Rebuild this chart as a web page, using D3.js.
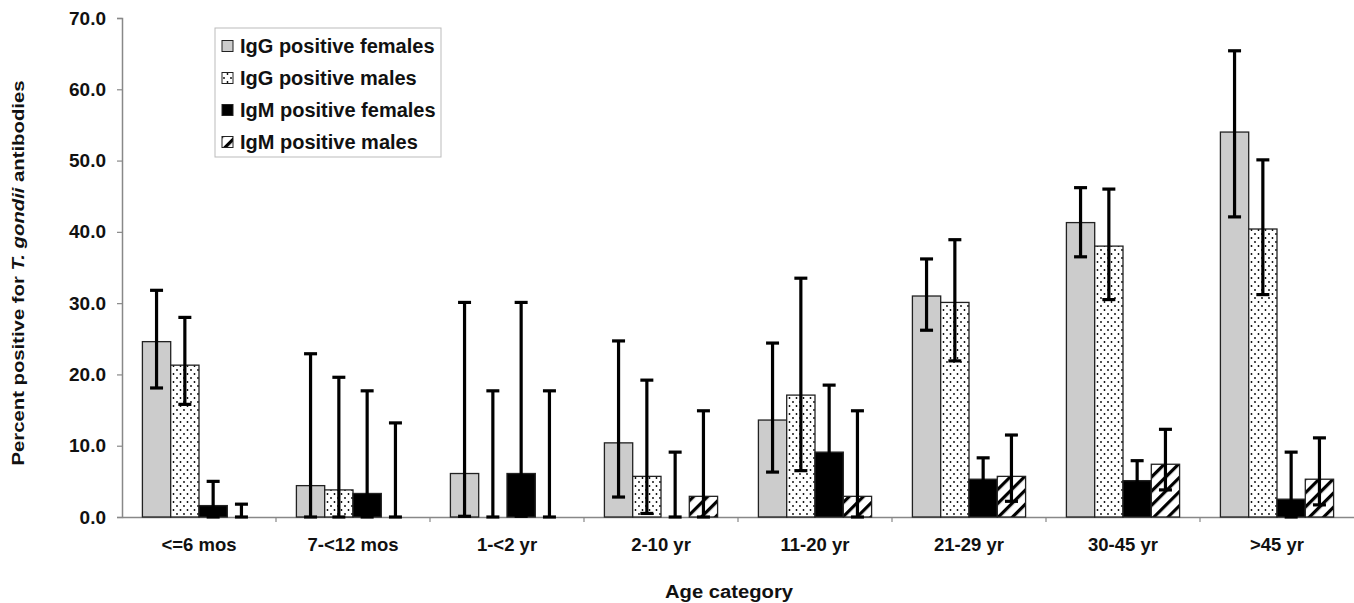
<!DOCTYPE html>
<html><head><meta charset="utf-8">
<script src="https://cdn.jsdelivr.net/npm/d3@7"></script>
<style>body{margin:0;background:#fff}svg{display:block}text{font-family:Arial,"Liberation Sans",sans-serif}</style>
</head><body><svg id="c" width="1354" height="603"></svg>
<script>
const categories = ["<=6 mos","7-<12 mos","1-<2 yr","2-10 yr","11-20 yr","21-29 yr","30-45 yr",">45 yr"];
const seriesNames = ["IgG positive females","IgG positive males","IgM positive females","IgM positive males"];
const iggFemales     = [24.6, 4.4, 6.1, 10.4, 13.6, 31.0, 41.3, 54.0];
const iggFemalesLow  = [18.1, 0.0, 0.1, 2.8, 6.3, 26.2, 36.5, 42.1];
const iggFemalesHigh = [31.8, 22.9, 30.1, 24.7, 24.4, 36.2, 46.2, 65.4];
const iggMales       = [21.3, 3.8, 0.0, 5.7, 17.1, 30.1, 38.0, 40.4];
const iggMalesLow    = [15.8, 0.0, 0.0, 0.5, 6.5, 21.9, 30.5, 31.2];
const iggMalesHigh   = [28.0, 19.6, 17.7, 19.2, 33.5, 38.9, 46.0, 50.1];
const igmFemales     = [1.6, 3.3, 6.1, 0.0, 9.1, 5.3, 5.1, 2.5];
const igmFemalesLow  = [0.0, 0.0, 0.1, 0.0, 3.0, 2.5, 2.5, 0.0];
const igmFemalesHigh = [5.0, 17.7, 30.1, 9.1, 18.5, 8.3, 7.9, 9.1];
const igmMales       = [0.0, 0.0, 0.0, 2.9, 2.9, 5.7, 7.4, 5.3];
const igmMalesLow    = [0.0, 0.0, 0.0, 0.0, 0.0, 2.2, 3.8, 1.7];
const igmMalesHigh   = [1.8, 13.2, 17.7, 14.9, 14.9, 11.5, 12.3, 11.1];
const yTicks = [0,10,20,30,40,50,60,70];

const series = [
  {name: seriesNames[0], v: iggFemales, lo: iggFemalesLow, hi: iggFemalesHigh, fill: "#cccccc"},
  {name: seriesNames[1], v: iggMales, lo: iggMalesLow, hi: iggMalesHigh, fill: "url(#dots)"},
  {name: seriesNames[2], v: igmFemales, lo: igmFemalesLow, hi: igmFemalesHigh, fill: "#000000"},
  {name: seriesNames[3], v: igmMales, lo: igmMalesLow, hi: igmMalesHigh, fill: "url(#hatch)"}
];

const svg = d3.select("#c");
const defs = svg.append("defs");
const dp = defs.append("pattern").attr("id","dots").attr("patternUnits","userSpaceOnUse").attr("width",7).attr("height",8);
dp.append("rect").attr("width",7).attr("height",8).attr("fill","#fff");
dp.append("circle").attr("cx",2).attr("cy",2).attr("r",0.9).attr("fill","#000");
dp.append("circle").attr("cx",5.5).attr("cy",6).attr("r",0.9).attr("fill","#000");
const hp = defs.append("pattern").attr("id","hatch").attr("patternUnits","userSpaceOnUse").attr("width",10).attr("height",10).attr("patternTransform","rotate(45)");
hp.append("rect").attr("width",10).attr("height",10).attr("fill","#fff");
hp.append("rect").attr("x",0).attr("y",0).attr("width",3.2).attr("height",10).attr("fill","#000");

const pLeft = 122, pRight = 1354, pTop = 18, pBottom = 517;
const y = d3.scaleLinear().domain([0,70]).range([pBottom, pTop]);
const x0 = d3.scaleBand().domain(categories).range([pLeft, pRight]).paddingInner(0.265).paddingOuter(0.1325);
const x1 = d3.scaleBand().domain(seriesNames).range([0, x0.bandwidth()]).padding(0);

// y axis
const ya = svg.append("g").attr("transform",`translate(${pLeft},0)`)
  .call(d3.axisLeft(y).tickValues(yTicks).tickFormat(d3.format(".1f")).tickSize(5).tickPadding(11));
ya.select(".domain").attr("stroke","#888").attr("stroke-width",1.5);
ya.selectAll(".tick line").attr("stroke","#888").attr("stroke-width",1.2);
ya.selectAll(".tick text").attr("font-size",19).attr("font-weight","bold").attr("fill","#111").style("font-family","Arial, 'Liberation Sans', sans-serif");

// x axis
const xa = svg.append("g").attr("transform",`translate(0,${pBottom})`)
  .call(d3.axisBottom(x0).tickSize(0).tickPadding(21));
xa.select(".domain").attr("stroke","#888").attr("stroke-width",1.5);
xa.selectAll(".tick text").attr("font-size",18.5).attr("font-weight","bold").attr("fill","#111").style("font-family","Arial, 'Liberation Sans', sans-serif");
const gapHalf = (x0.step() - x0.bandwidth())/2;
svg.append("g").selectAll("line").data(categories.slice(1)).join("line")
  .attr("x1", d => x0(d) - gapHalf).attr("x2", d => x0(d) - gapHalf)
  .attr("y1", pBottom).attr("y2", pBottom + 5).attr("stroke","#888").attr("stroke-width",1.2);

// bars
const g = svg.append("g");
series.forEach(s => {
  g.append("g").selectAll("rect").data(categories).join("rect")
    .attr("x", (c) => x0(c) + x1(s.name))
    .attr("width", x1.bandwidth())
    .attr("y", (c,i) => y(s.v[i]))
    .attr("height", (c,i) => y(0) - y(s.v[i]))
    .attr("fill", s.fill).attr("stroke","#222").attr("stroke-width",1.3);
});
// error bars
const capW = 6.5;
series.forEach(s => {
  const eg = g.append("g").attr("stroke","#000").attr("stroke-width",3.2);
  categories.forEach((c,i) => {
    const cx = x0(c) + x1(s.name) + x1.bandwidth()/2;
    eg.append("line").attr("x1",cx).attr("x2",cx).attr("y1",y(s.lo[i])).attr("y2",y(s.hi[i]));
    eg.append("line").attr("x1",cx-capW).attr("x2",cx+capW).attr("y1",y(s.hi[i])).attr("y2",y(s.hi[i]));
    eg.append("line").attr("x1",cx-capW).attr("x2",cx+capW).attr("y1",y(s.lo[i])).attr("y2",y(s.lo[i]));
  });
});

// legend
const lg = svg.append("g").attr("transform","translate(215,28)");
lg.append("rect").attr("width",226).attr("height",129).attr("fill","#fff").attr("stroke","#bbb").attr("stroke-width",1);
series.forEach((s,i) => {
  const ry = 18 + i*32;
  lg.append("rect").attr("x",7).attr("y",ry-5.5).attr("width",11).attr("height",11)
    .attr("fill", s.fill).attr("stroke","#222").attr("stroke-width",1);
  lg.append("text").attr("x",25).attr("y",ry).attr("dy","0.35em")
    .attr("font-size",20).attr("font-weight","bold").attr("fill","#111").text(s.name);
});

// axis titles
svg.append("text").attr("x", 729).attr("y", 598).attr("text-anchor","middle")
  .attr("font-size",18).attr("font-weight","bold").attr("fill","#111")
  .attr("textLength",128).attr("lengthAdjust","spacingAndGlyphs").text("Age category");
const yt = svg.append("text").attr("transform","translate(24,273) rotate(-90)").attr("text-anchor","middle")
  .attr("font-size",17).attr("font-weight","bold").attr("fill","#111")
  .attr("textLength",385).attr("lengthAdjust","spacingAndGlyphs");
yt.append("tspan").text("Percent positive for ");
yt.append("tspan").attr("font-style","italic").text("T. gondii");
yt.append("tspan").text(" antibodies");
</script></body></html>
